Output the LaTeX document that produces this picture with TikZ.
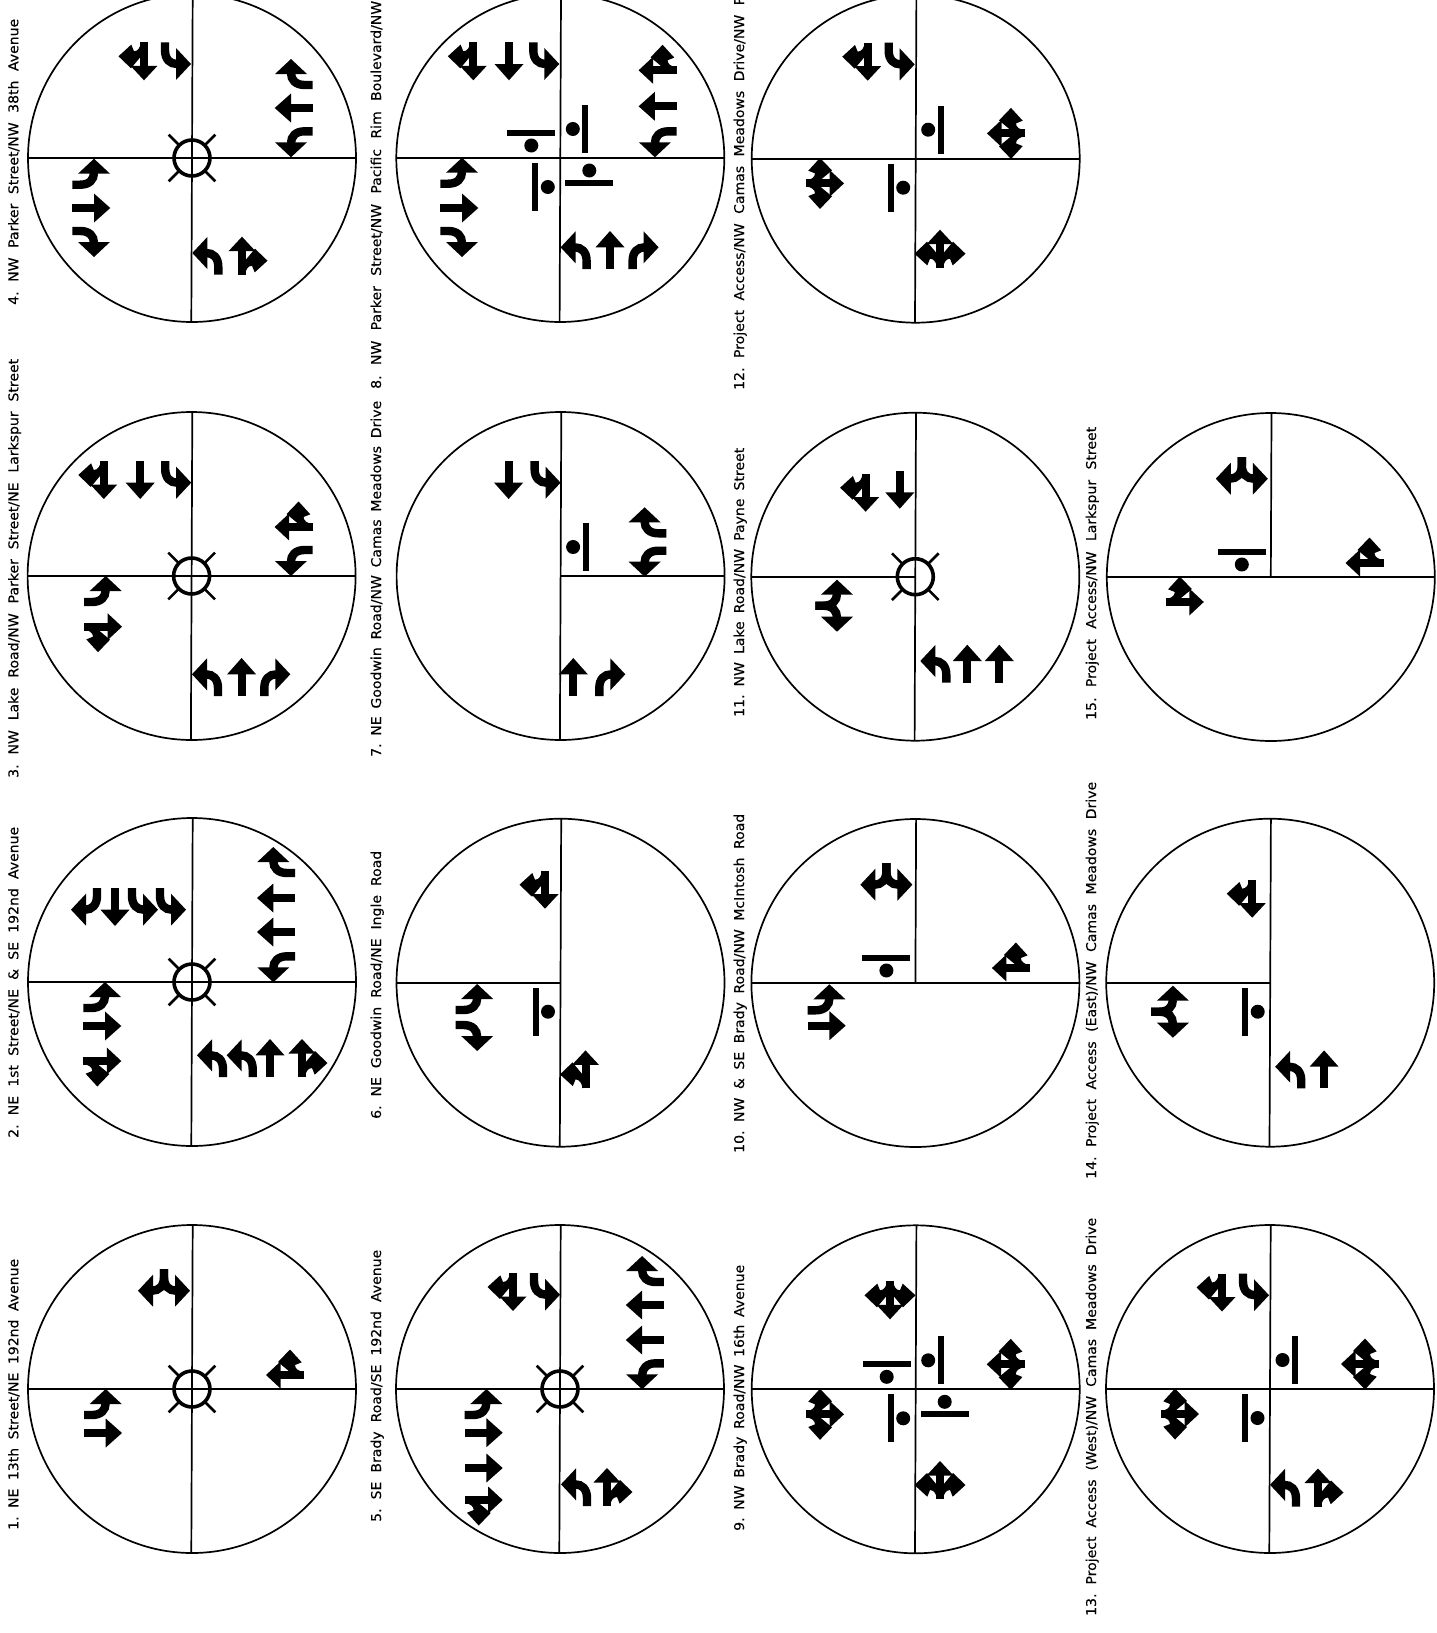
\documentclass[tikz,border=0pt]{standalone}
\usepackage{fontspec}
\setmainfont{DejaVu Sans}[FakeStretch=1.04,FakeBold=0.2]
\newcommand{\partT}{\fill (-4,0) rectangle (4,23);\fill (0,38) -- (-14.5,21.7) -- (14.5,21.7) -- cycle;}
\newcommand{\partTc}{\fill (-4,0) rectangle (4,25);\fill (0,38) -- (-13.5,23.5) -- (13.5,23.5) -- cycle;}
\newcommand{\partR}{\draw[line width=8.4pt] (0,0) -- (0,8) .. controls (0,17) and (5,21.7) .. (12,21.7);\fill (26,21.7) -- (11,37.7) -- (11,5.7) -- cycle;}
\newcommand{\partSide}{\fill (3,0) .. controls (3.6,5) and (6,9) .. (10,9) -- (12.7,2.3) -- (25.5,14) -- (13,26) -- (11,23.6) -- (3,14) -- cycle;}
\newcommand{\glT}{\partT}
\newcommand{\glR}{\partR}
\newcommand{\glL}{\begin{scope}[xscale=-1]\partR\end{scope}}
\newcommand{\glLR}{\partR\begin{scope}[xscale=-1]\partR\end{scope}}
\newcommand{\glTR}{\partTc\partSide}
\newcommand{\glTL}{\partTc\begin{scope}[xscale=-1]\partSide\end{scope}}
\newcommand{\glLTR}{\partTc\partSide\begin{scope}[xscale=-1]\partSide\end{scope}}
\newcommand{\G}[4]{\begin{scope}[shift={(#1,#2)},rotate=#3]\csname gl#4\endcsname\end{scope}}
\newcommand{\stopsign}[1]{\begin{scope}[rotate=#1]\fill (22,5) rectangle (28,53);\fill (12.5,29) circle (7);\end{scope}}
\newcommand{\signal}{\draw[sigring] (0,0) circle (18);\foreach \a in {45,135,225,315}{\draw[sigspoke] (\a:17) -- (\a:33);}}
\newcommand{\base}[4]{\draw[roadline] (0,0) circle (164);\draw[roadline] (-#1,0) -- (#2,0);\draw[roadline] ({#3*0.0043},#3) -- ({-#4*0.0043},-#4);}
\newcommand{\lab}[5]{\node[labeltext] (#1) at (#2,-#3) {\hbox to #4pt{\frenchspacing\spaceskip=0pt plus 1fil\relax #5}};}
\tikzset{
  roadline/.style={line width=1.7pt,black},
  sigring/.style={line width=3.6pt,black},
  sigspoke/.style={line width=2.6pt,black},
  labeltext/.style={rotate=90,anchor=base west,inner sep=0pt,font=\fontsize{13.5pt}{16pt}\selectfont,text=black}
}
\begin{document}
\begin{tikzpicture}[x=1pt,y=1pt]
\path[use as bounding box,fill=white] (0,-1633) rectangle (1436,0);
\clip (0,-1633) rectangle (1436,0);
% labels
\lab{l1}{18.3}{1530}{271}{1. NE 13th Street/NE 192nd Avenue}
\lab{l2}{18.3}{1138}{311}{2. NE 1st Street/NE \& SE 192nd Avenue}
\lab{l3}{18.3}{778}{419}{3. NW Lake Road/NW Parker Street/NE Larkspur Street}
\lab{l4}{18.3}{305}{286}{4. NW Parker Street/NW 38th Avenue}
\lab{l5}{381}{1522}{272}{5. SE Brady Road/SE 192nd Avenue}
\lab{l6}{381}{1119}{268}{6. NE Goodwin Road/NE Ingle Road}
\lab{l7}{381}{757}{356}{7. NE Goodwin Road/NW Camas Meadows Drive}
\lab{l8}{381}{389}{388}{8. NW Parker Street/NW Pacific Rim Boulevard/NW}
\lab{l9}{744}{1531}{266}{9. NW Brady Road/NW 16th Avenue}
\lab{l10}{744}{1153}{339}{10. NW \& SE Brady Road/NW McIntosh Road}
\lab{l11}{744}{717}{269}{11. NW Lake Road/NW Payne Street}
\lab{l12}{744}{390}{393}{12. Project Access/NW Camas Meadows Drive/NW P}
\lab{l13}{1096}{1616}{398}{13. Project Access (West)/NW Camas Meadows Drive}
\lab{l14}{1096}{1179}{397}{14. Project Access (East)/NW Camas Meadows Drive}
\lab{l15}{1096}{720}{293}{15. Project Access/NW Larkspur Street}
% panel 1
\begin{scope}[shift={(192,-1389)}]
\base{164}{164}{164}{164}\signal
\G{-28}{120}{180}{LR}
\G{112}{14}{90}{TR}
\G{-108}{-26}{-90}{L}\G{-108}{-44}{-90}{T}
\end{scope}
% panel 2
\begin{scope}[shift={(192,-982)}]
\base{164}{164}{164}{164}\signal
\G{-32}{94}{180}{L}\G{-60}{94}{180}{L}\G{-77}{94}{180}{T}\G{-95}{94}{180}{R}
\G{103}{109}{90}{R}\G{103}{84}{90}{T}\G{103}{50}{90}{T}\G{103}{25.7}{90}{L}
\G{31}{-95}{0}{L}\G{60.7}{-95}{0}{L}\G{78}{-95}{0}{T}\G{110}{-95}{0}{TR}
\G{-108.7}{-26}{-90}{L}\G{-108.7}{-44}{-90}{T}\G{-108.7}{-79}{-90}{TR}
\end{scope}
% panel 3
\begin{scope}[shift={(191.6,-576)}]
\base{164}{164}{164}{164}\signal
\G{-26.4}{115}{180}{L}\G{-51.4}{115}{180}{T}\G{-87.8}{115}{180}{TR}
\G{121}{49}{90}{TR}\G{121}{26}{90}{L}
\G{26.4}{-120}{0}{L}\G{50}{-120}{0}{T}\G{72.7}{-120}{0}{R}
\G{-107.6}{-26}{-90}{L}\G{-107.6}{-50.7}{-90}{TR}
\end{scope}
% panel 4
\begin{scope}[shift={(192,-158)}]
\base{164}{164}{164}{164}\signal
\G{-27}{115.7}{180}{L}\G{-48}{115.7}{180}{TR}
\G{120.7}{73}{90}{R}\G{120.7}{50}{90}{T}\G{120.7}{26.7}{90}{L}
\G{26.3}{-116.7}{0}{L}\G{50}{-116.7}{0}{TR}
\G{-119.7}{-26.7}{-90}{L}\G{-119.7}{-50}{-90}{T}\G{-119.7}{-73}{-90}{R}
\end{scope}
% panel 5
\begin{scope}[shift={(560,-1389)}]
\base{164}{164}{164}{164}\signal
\G{-26}{116}{180}{L}\G{-47}{116}{180}{TR}
\G{103.8}{107}{90}{R}\G{103.8}{84}{90}{T}\G{103.8}{49}{90}{T}\G{103.8}{25.7}{90}{L}
\G{27}{-117}{0}{L}\G{47}{-117}{0}{TR}
\G{-95.3}{-26}{-90}{L}\G{-95.3}{-43.7}{-90}{T}\G{-95.3}{-79}{-90}{T}\G{-95.3}{-111}{-90}{TR}
\end{scope}
% panel 6
\begin{scope}[shift={(560.5,-982.7)}]
\base{164}{0}{164}{164}
\stopsign{180}
\G{-15.5}{112}{180}{TR}
\G{-105}{-27.3}{-90}{L}\G{-105}{-42.3}{-90}{R}
\G{25}{-105.7}{0}{TL}
\end{scope}
% panel 7
\begin{scope}[shift={(560.6,-576)}]
\base{0}{164}{164}{164}
\stopsign{0}
\G{-26}{115}{180}{L}\G{-52}{115}{180}{T}
\G{105.7}{42.7}{90}{R}\G{105.7}{25.3}{90}{L}
\G{12.7}{-120}{0}{T}\G{38.7}{-120}{0}{R}
\end{scope}
% panel 8
\begin{scope}[shift={(560.3,-158)}]
\base{164}{164}{164}{164}
\stopsign{0}\stopsign{90}\stopsign{180}\stopsign{270}
\G{-27}{115.7}{180}{L}\G{-51.3}{115.7}{180}{T}\G{-87}{115.7}{180}{TR}
\G{116.3}{87.7}{90}{TR}\G{116.3}{51.7}{90}{T}\G{116.3}{26.7}{90}{L}
\G{26.3}{-111}{0}{L}\G{49.7}{-111}{0}{T}\G{72.3}{-111}{0}{R}
\G{-120}{-25.7}{-90}{L}\G{-120}{-50}{-90}{T}\G{-120}{-73}{-90}{R}
\end{scope}
% panel 9
\begin{scope}[shift={(915.7,-1389.3)}]
\base{164}{164}{164}{164}
\stopsign{0}\stopsign{90}\stopsign{180}\stopsign{270}
\G{-25.7}{108}{180}{LTR}
\G{109}{25}{90}{LTR}
\G{24.3}{-109.7}{0}{LTR}
\G{-109.7}{-25}{-90}{LTR}
\end{scope}
% panel 10
\begin{scope}[shift={(915.4,-983)}]
\base{164}{164}{164}{0}
\stopsign{90}
\G{-29}{120}{180}{LR}
\G{114.5}{15}{90}{TR}
\G{-107.7}{-27.3}{-90}{L}\G{-107.7}{-42.7}{-90}{T}
\end{scope}
% panel 11
\begin{scope}[shift={(915.3,-576.7)}]
\base{164}{0}{164}{164}\signal
\G{-15.5}{106}{180}{T}\G{-49.7}{103}{180}{TR}
\G{-100}{-29}{-90}{LR}
\G{31}{-106}{0}{L}\G{52}{-106}{0}{T}\G{84}{-106}{0}{T}
\end{scope}
% panel 12
\begin{scope}[shift={(915.7,-158.7)}]
\base{164}{164}{164}{164}
\stopsign{0}\stopsign{180}
\G{-27}{116}{180}{L}\G{-48}{116}{180}{TR}
\G{109.3}{25.3}{90}{LTR}
\G{-109.7}{-24.7}{-90}{LTR}
\G{24.3}{-109}{0}{LTR}
\end{scope}
% panel 13
\begin{scope}[shift={(1270,-1389)}]
\base{164}{164}{164}{164}
\stopsign{0}\stopsign{180}
\G{-27}{115.5}{180}{L}\G{-48}{115.5}{180}{TR}
\G{109}{25}{90}{LTR}
\G{-109}{-25}{-90}{LTR}
\G{26}{-117.5}{0}{L}\G{48}{-117.5}{0}{TR}
\end{scope}
% panel 14
\begin{scope}[shift={(1270.2,-982.7)}]
\base{164}{0}{164}{164}
\stopsign{180}
\G{-18}{103}{180}{TR}
\G{-119}{-29}{-90}{LR}
\G{31}{-105.7}{0}{L}\G{53.9}{-105.7}{0}{T}
\end{scope}
% panel 15
\begin{scope}[shift={(1270.8,-577)}]
\base{164}{164}{164}{0}
\stopsign{90}
\G{-29}{120}{180}{LR}
\G{112.7}{14}{90}{TR}
\G{-105}{-25}{-90}{TL}
\end{scope}
\end{tikzpicture}
\end{document}
